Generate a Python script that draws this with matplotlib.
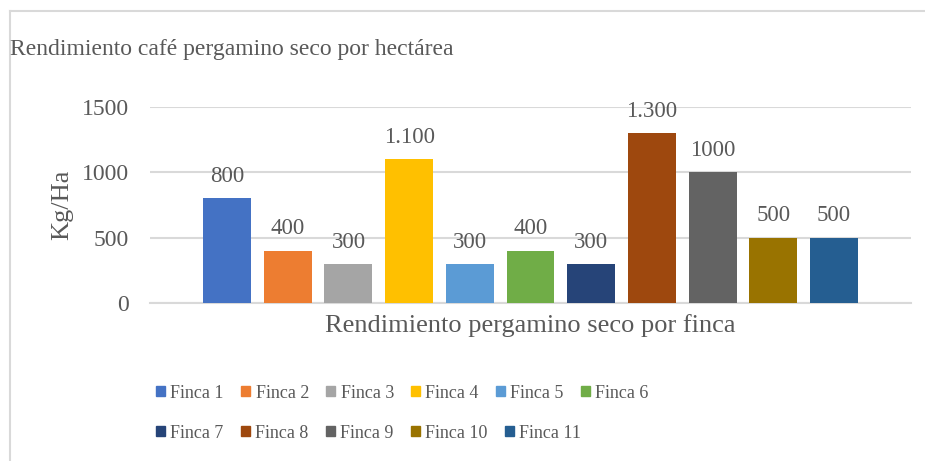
import matplotlib.pyplot as plt
from matplotlib.lines import Line2D
from matplotlib.patches import Patch

fincas = ['Finca 1', 'Finca 2', 'Finca 3', 'Finca 4', 'Finca 5', 'Finca 6',
          'Finca 7', 'Finca 8', 'Finca 9', 'Finca 10', 'Finca 11']
rendimiento = [800, 400, 300, 1100, 300, 400, 300, 1300, 1000, 500, 500]
etiquetas = ['800', '400', '300', '1.100', '300', '400', '300', '1.300', '1000', '500', '500']
colores = ['#4472C4', '#ED7D31', '#A5A5A5', '#FFC000', '#5B9BD5', '#70AD47',
           '#264478', '#9E480E', '#636363', '#997300', '#255E91']
yticks = [0, 500, 1000, 1500]

GRIS = '#595959'
plt.rcParams['font.family'] = ['Liberation Serif', 'DejaVu Serif']

W, H = 925, 461
fig = plt.figure(figsize=(W / 100, H / 100), dpi=100)
ax = fig.add_axes([150 / W, 1 - 302.7 / H, 761 / W, 195.4 / H])

x = list(range(len(fincas)))
bars = ax.bar(x, rendimiento, width=0.79, color=colores, zorder=3)
for xi, v, t in zip(x, rendimiento, etiquetas):
    ax.annotate(t, (xi, v), xytext=(0, 8), textcoords='offset points',
                ha='center', va='bottom', fontsize=16.5, color=GRIS)

ax.set_xlim(-1.27, 11.27)
ax.set_ylim(0, 1500)
ax.set_yticks(yticks)
ax.set_yticklabels([str(t) for t in yticks], fontsize=17, color=GRIS)
ax.set_xticks([])
ax.tick_params(axis='y', length=0, pad=15)
ax.grid(axis='y', color='#d9d9d9', lw=1.5, zorder=0)
for s in ['top', 'right', 'left']:
    ax.spines[s].set_visible(False)
ax.spines['bottom'].set_color('#d9d9d9')
ax.spines['bottom'].set_linewidth(1.5)

fig.text(62 / W, 1 - 205 / H, 'Kg/Ha', rotation=90, ha='center', va='center',
         fontsize=19, color=GRIS)
fig.text(530 / W, 1 - 332 / H, 'Rendimiento pergamino seco por finca',
         ha='center', va='baseline', fontsize=19, color=GRIS)
fig.text(10 / W, 1 - 55 / H, 'Rendimiento café pergamino seco por hectárea',
         ha='left', va='baseline', fontsize=17, color=GRIS)

# borde del grafico (solo arriba e izquierda visibles)
fig.add_artist(Line2D([9.5 / W, 1], [1 - 11 / H] * 2, color='#d9d9d9', lw=1.5))
fig.add_artist(Line2D([9.5 / W] * 2, [0, 1 - 11 / H], color='#d9d9d9', lw=1.5))

handles = [Patch(color=c, label=f) for c, f in zip(colores, fincas)]
kw = dict(frameon=False, fontsize=13, handlelength=0.5, handleheight=0.5,
          handletextpad=0.3, columnspacing=0.95, borderpad=0, borderaxespad=0,
          labelcolor=GRIS, loc='center left')
leg1 = fig.legend(handles=handles[:6], ncol=6, bbox_to_anchor=(156 / W, 1 - 393 / H), **kw)
leg2 = fig.legend(handles=handles[6:], ncol=5, bbox_to_anchor=(156 / W, 1 - 433 / H), **kw)

fig.savefig('out.png', dpi=100)
